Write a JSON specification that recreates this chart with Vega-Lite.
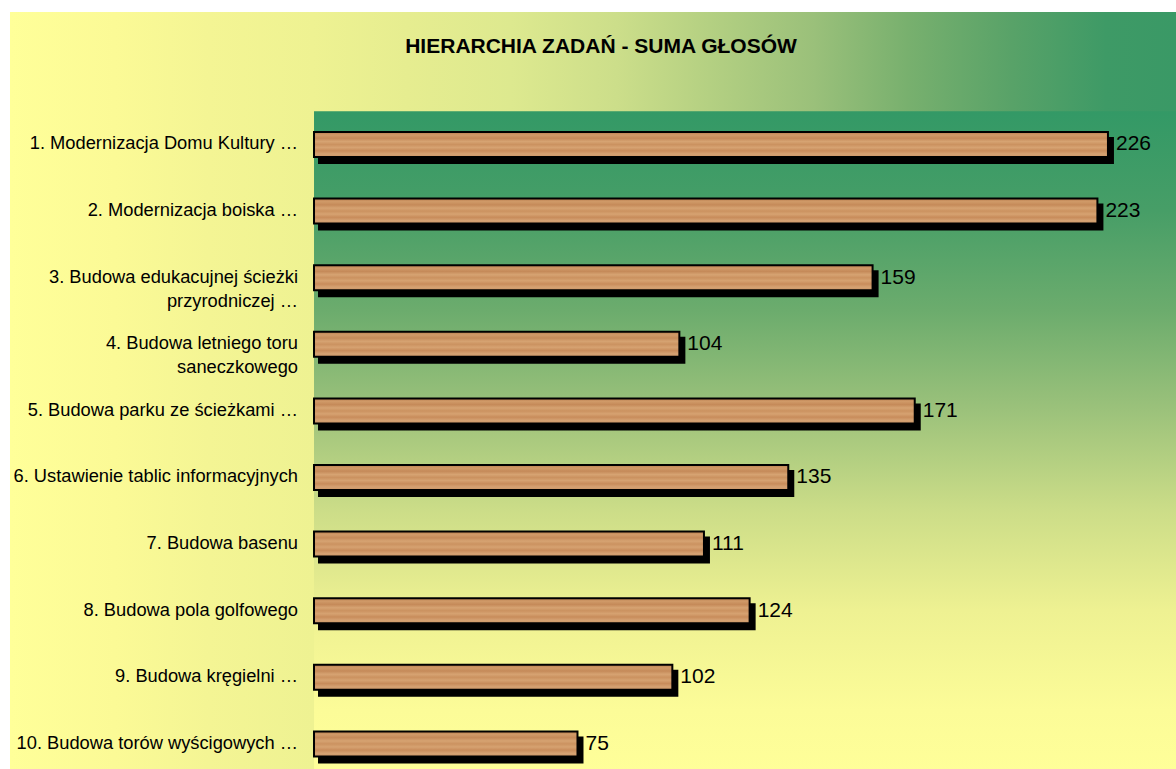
{
  "$schema": "https://vega.github.io/schema/vega-lite/v6.json",
  "width": 1166,
  "height": 757,
  "autosize": {"type": "none"},
  "padding": {"left": 10, "top": 12, "right": 0, "bottom": 0},
  "background": "white",
  "view": {
    "stroke": null,
    "fill": {
      "gradient": "linear", "x1": 0, "y1": 0, "x2": 1, "y2": 0,
      "stops": [
        {"offset": 0, "color": "#FFFF99"},
        {"offset": 0.09, "color": "#FBFA96"},
        {"offset": 0.17, "color": "#F4F594"},
        {"offset": 0.26, "color": "#EEF292"},
        {"offset": 0.34, "color": "#E6ED90"},
        {"offset": 0.43, "color": "#DDE98F"},
        {"offset": 0.52, "color": "#CCDE8A"},
        {"offset": 0.6, "color": "#B4D082"},
        {"offset": 0.69, "color": "#9AC07A"},
        {"offset": 0.77, "color": "#78B06E"},
        {"offset": 0.86, "color": "#58A268"},
        {"offset": 0.94, "color": "#3E9A66"},
        {"offset": 1, "color": "#3A9966"}
      ]
    }
  },
  "title": {
    "text": "HIERARCHIA ZADAŃ - SUMA GŁOSÓW",
    "font": "Liberation Sans",
    "fontSize": 21,
    "fontWeight": "bold",
    "color": "black",
    "anchor": "middle",
    "frame": "group",
    "baseline": "bottom",
    "offset": -66,
    "dx": 8
  },
  "data": {
    "values": [
      {"task": 1, "label": "1. Modernizacja Domu Kultury …", "votes": 226},
      {"task": 2, "label": "2. Modernizacja boiska …", "votes": 223},
      {"task": 3, "label": "3. Budowa edukacujnej ścieżki\nprzyrodniczej …", "votes": 159},
      {"task": 4, "label": "4. Budowa letniego toru\nsaneczkowego", "votes": 104},
      {"task": 5, "label": "5. Budowa parku ze ścieżkami …", "votes": 171},
      {"task": 6, "label": "6. Ustawienie tablic informacyjnych", "votes": 135},
      {"task": 7, "label": "7. Budowa basenu", "votes": 111},
      {"task": 8, "label": "8. Budowa pola golfowego", "votes": 124},
      {"task": 9, "label": "9. Budowa kręgielni …", "votes": 102},
      {"task": 10, "label": "10. Budowa torów wyścigowych …", "votes": 75}
    ]
  },
  "layer": [
    {
      "data": {"values": [{"panel": "plot"}]},
      "mark": {
        "type": "rect",
        "clip": true,
        "fill": {
          "gradient": "linear", "x1": 0, "y1": 0, "x2": 0, "y2": 1,
          "stops": [
            {"offset": 0, "color": "#339966"},
            {"offset": 0.15, "color": "#479E67"},
            {"offset": 0.3, "color": "#6CAC6D"},
            {"offset": 0.45, "color": "#9CC27B"},
            {"offset": 0.6, "color": "#CCDD88"},
            {"offset": 0.75, "color": "#EEF192"},
            {"offset": 0.9, "color": "#FCFC98"},
            {"offset": 1, "color": "#FFFF99"}
          ]
        }
      },
      "encoding": {
        "x": {"datum": 0, "type": "quantitative", "scale": {"domain": [-86.54, 245.37], "nice": false, "zero": false, "padding": 0}, "axis": null},
        "x2": {"datum": 245.37},
        "y": {"datum": 0.5, "type": "quantitative", "scale": {"domain": [-0.9895, 10.377], "reverse": true, "nice": false, "zero": false, "padding": 0}, "axis": null},
        "y2": {"datum": 10.5}
      }
    },
    {
      "mark": {"type": "bar", "orient": "horizontal", "size": 25, "fill": "black", "stroke": "black", "strokeWidth": 2, "xOffset": 5, "yOffset": 6},
      "encoding": {
        "x": {"field": "votes", "type": "quantitative"},
        "y": {"field": "task", "type": "quantitative"}
      }
    },
    {
      "mark": {
        "type": "bar", "orient": "horizontal", "size": 25, "stroke": "black", "strokeWidth": 2,
        "fill": {
          "gradient": "linear", "x1": 0, "y1": 0, "x2": 0, "y2": 1,
          "stops": [
            {"offset": 0, "color": "#BA7E4E"},
            {"offset": 0.12, "color": "#D09A68"},
            {"offset": 0.25, "color": "#C58A59"},
            {"offset": 0.38, "color": "#D6A372"},
            {"offset": 0.5, "color": "#CB9260"},
            {"offset": 0.62, "color": "#D6A271"},
            {"offset": 0.75, "color": "#C88C5B"},
            {"offset": 0.88, "color": "#D5A273"},
            {"offset": 1, "color": "#CC9666"}
          ]
        }
      },
      "encoding": {
        "x": {"field": "votes", "type": "quantitative"},
        "y": {"field": "task", "type": "quantitative"}
      }
    },
    {
      "mark": {"type": "text", "align": "left", "baseline": "middle", "dx": 8, "font": "Liberation Sans", "fontSize": 21, "color": "black"},
      "encoding": {
        "x": {"field": "votes", "type": "quantitative"},
        "y": {"field": "task", "type": "quantitative"},
        "text": {"field": "votes", "type": "quantitative"}
      }
    },
    {
      "mark": {"type": "text", "align": "right", "baseline": "middle", "dx": -16, "font": "Liberation Sans", "fontSize": 18.3, "color": "black", "lineBreak": "\n", "lineHeight": 24},
      "encoding": {
        "x": {"datum": 0, "type": "quantitative"},
        "y": {"field": "task", "type": "quantitative"},
        "text": {"field": "label", "type": "nominal"}
      }
    }
  ]
}
